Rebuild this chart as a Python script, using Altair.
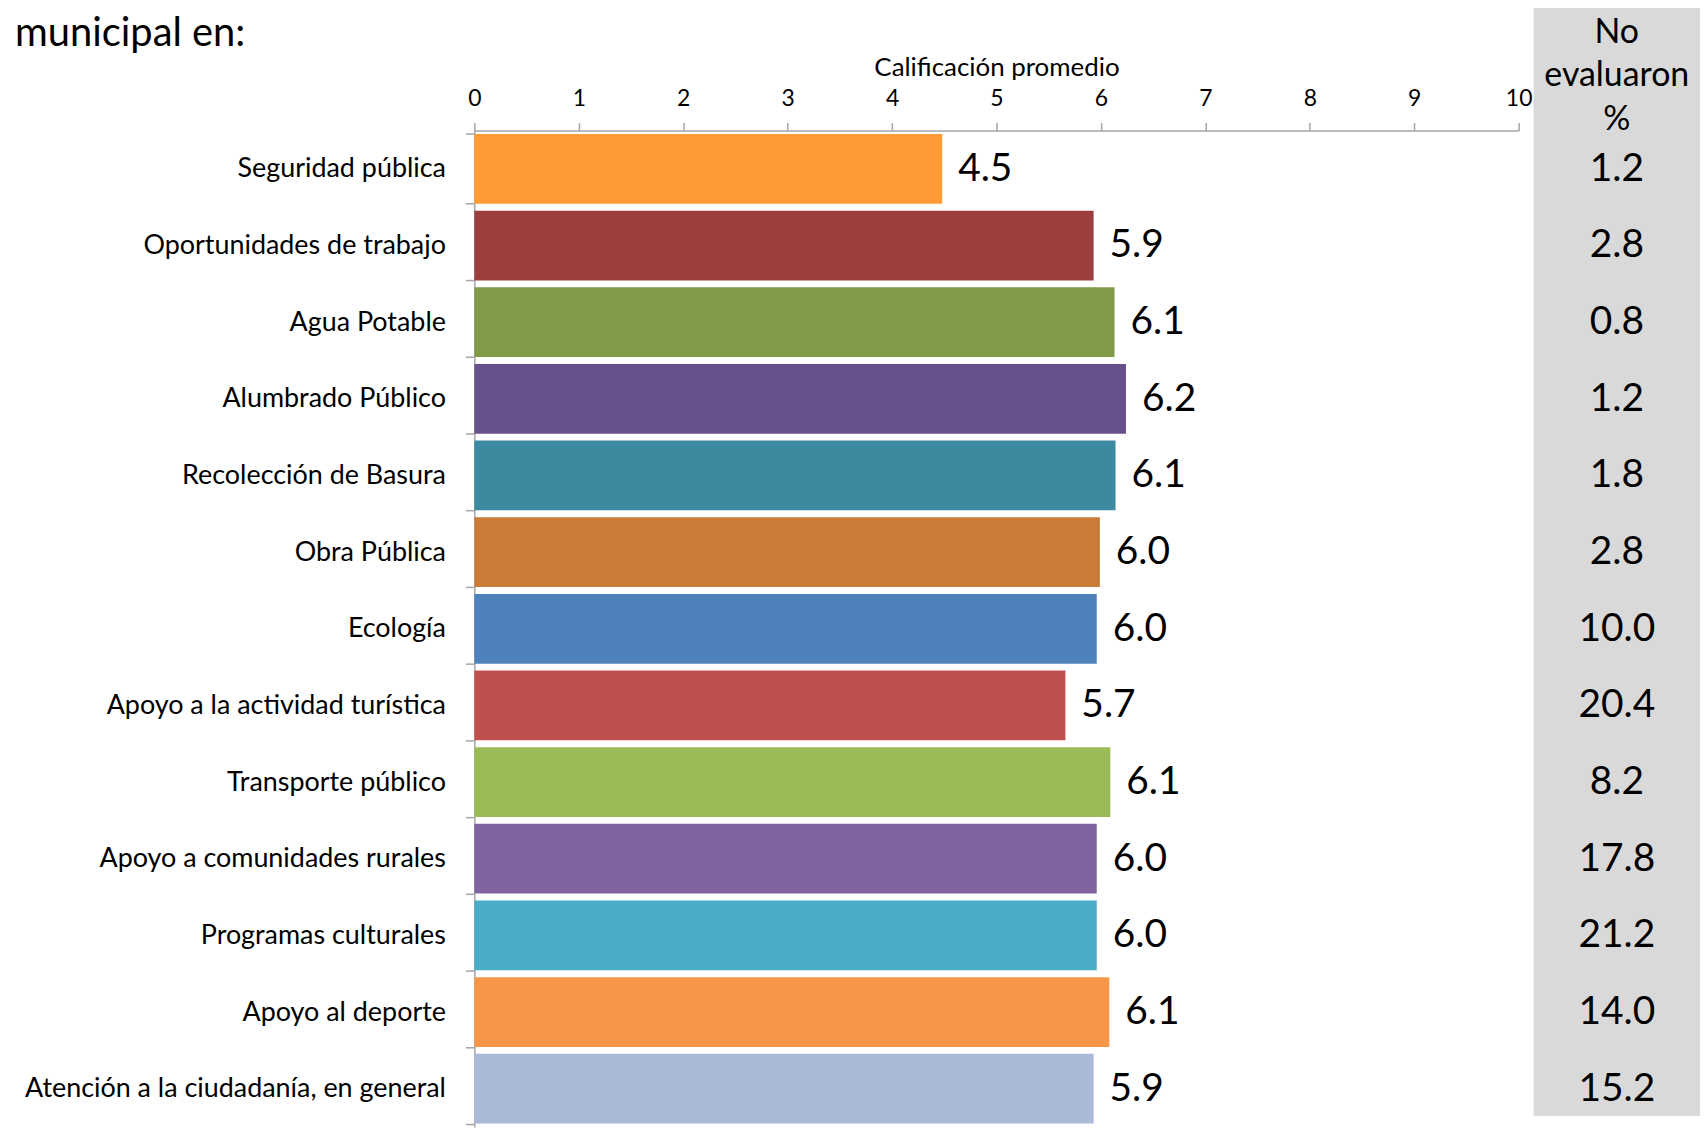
import altair as alt
import pandas as pd

categorias = [
    "Seguridad pública",
    "Oportunidades de trabajo",
    "Agua Potable",
    "Alumbrado Público",
    "Recolección de Basura",
    "Obra Pública",
    "Ecología",
    "Apoyo a la actividad turística",
    "Transporte público",
    "Apoyo a comunidades rurales",
    "Programas culturales",
    "Apoyo al deporte",
    "Atención a la ciudadanía, en general",
]
calificacion = [4.48, 5.93, 6.13, 6.24, 6.14, 5.99, 5.96, 5.66, 6.09, 5.96, 5.96, 6.08, 5.93]
no_evaluaron = [1.2, 2.8, 0.8, 1.2, 1.8, 2.8, 10.0, 20.4, 8.2, 17.8, 21.2, 14.0, 15.2]
colores = [
    "#FF9A35", "#9C3E3E", "#7F9A48", "#68508A", "#3C8AA0", "#CB7B38", "#4F81BD",
    "#C0504D", "#9BBB59", "#8064A2", "#4BACC6", "#F79646", "#AAB9D7",
]
ticks_x = list(range(11))
titulo = "municipal en:"
titulo_eje = "Calificación promedio"
encabezado = "No\nevaluaron\n%"

FONT = "Lato"
GRIS = "#A6A6A6"
PLOT_W = 1048
PLOT_H = 1000
COL_W = 167

df = pd.DataFrame({
    "categoria": categorias,
    "calificacion": calificacion,
    "no_evaluaron": no_evaluaron,
})

y_scale = alt.Scale(paddingInner=0.09, paddingOuter=0.045)

x_enc = alt.X(
    "calificacion:Q",
    scale=alt.Scale(domain=[0, 10], nice=False),
    axis=alt.Axis(
        orient="top", values=ticks_x, format="d", title=titulo_eje, grid=False,
        domainColor=GRIS, domainWidth=1.5, tickColor=GRIS, tickWidth=1.5, tickSize=8,
        labelFontSize=23, labelColor="black", labelFont=FONT, labelPadding=12,
        labelFlush=False, titleFontSize=26, titleFontWeight="normal", titleFont=FONT,
        titleColor="black", titlePadding=7,
    ),
)
y_enc = alt.Y(
    "categoria:N",
    sort=categorias,
    scale=y_scale,
    axis=alt.Axis(
        title=None, tickBand="extent", domainColor=GRIS, domainWidth=1.5,
        tickColor=GRIS, tickWidth=1.5, tickSize=9, labelFontSize=27, labelFont=FONT,
        labelColor="black", labelPadding=20, labelLimit=600,
        minExtent=461, maxExtent=461,
    ),
)

base = alt.Chart(df)
bars = base.mark_bar().encode(
    x=x_enc,
    y=y_enc,
    color=alt.Color("categoria:N", scale=alt.Scale(domain=categorias, range=colores), legend=None),
)
labels = base.mark_text(align="left", baseline="middle", dx=16, fontSize=39, font=FONT, color="black").encode(
    x=alt.X("calificacion:Q"),
    y=alt.Y("categoria:N", sort=categorias),
    text=alt.Text("calificacion:Q", format=".1f"),
)

left = alt.layer(bars, labels).properties(
    width=PLOT_W,
    height=PLOT_H,
    title=alt.TitleParams(
        titulo, anchor="start", frame="bounds", fontSize=40, font=FONT,
        fontWeight="normal", color="black", offset=-2, dy=-3,
    ),
)

# grey background panel of the "No evaluaron" column (decoration)
panel = alt.Chart(pd.DataFrame({"p": [0]})).mark_rect(color="#D9D9D9").encode(
    x=alt.value(0), x2=alt.value(COL_W), y=alt.value(-125), y2=alt.value(989)
)
header = alt.Chart(pd.DataFrame({"t": [encabezado]})).mark_text(
    lineBreak="\n", fontSize=34, lineHeight=43.5, font=FONT, color="black", baseline="middle"
).encode(
    text="t:N",
    x=alt.value(COL_W / 2),
    y=alt.value(-98),
)
right_vals = alt.Chart(df).mark_text(fontSize=39, font=FONT, color="black", baseline="middle").encode(
    x=alt.value(COL_W / 2),
    y=alt.Y("categoria:N", sort=categorias, axis=None, scale=y_scale),
    text=alt.Text("no_evaluaron:Q", format=".1f"),
)
right = alt.layer(panel, header, right_vals).properties(width=COL_W, height=PLOT_H)

chart = alt.hconcat(left, right, spacing=1).properties(
    padding={"left": 7, "top": -4, "right": 0, "bottom": 0},
).configure(font=FONT).configure_view(strokeWidth=0)

chart.save("out.html", embed_options={"renderer": "svg", "actions": False})
